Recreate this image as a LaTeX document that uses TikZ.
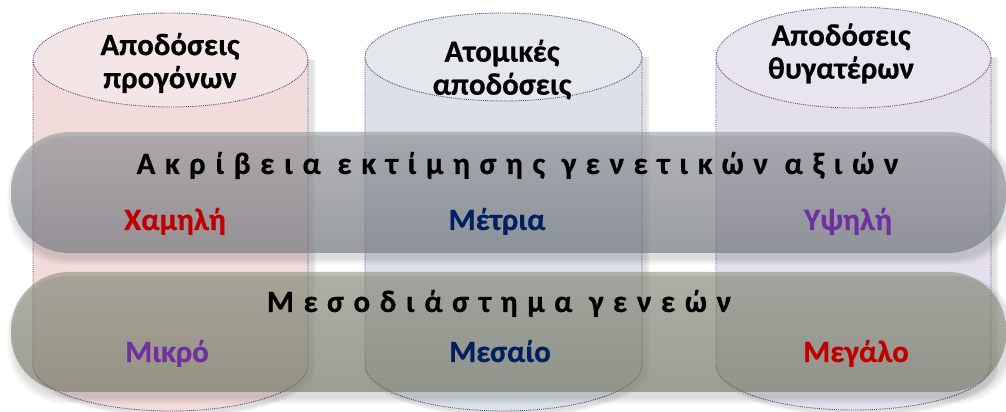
\documentclass[tikz,border=0pt]{standalone}
\usepackage{fontspec}
\setmainfont{Carlito}[BoldFeatures={FakeBold=0.5}]
\newfontfamily\spacedfont{Carlito}[LetterSpace=31,BoldFeatures={FakeBold=0.5}]
\definecolor{outl}{HTML}{5F497A}
\definecolor{pinkbody}{HTML}{F2DCDB}
\definecolor{pinktop}{HTML}{F4E6E6}
\definecolor{bluebody}{HTML}{DCE1E9}
\definecolor{bluetop}{HTML}{E4E7EC}
\definecolor{lavbody}{HTML}{E4DFEC}
\definecolor{lavtop}{HTML}{E9E5EF}
\definecolor{bandAtop}{RGB}{150,154,158}
\definecolor{bandAbot}{RGB}{110,116,124}
\definecolor{bandBtop}{RGB}{142,146,128}
\definecolor{bandBbot}{RGB}{114,118,98}
\definecolor{lowred}{HTML}{C00000}
\definecolor{darkblue}{HTML}{002060}
\definecolor{purp}{HTML}{7030A0}
\begin{document}
\begin{tikzpicture}[x=1pt,y=1pt,
  outline/.style={draw=outl, line width=0.9pt, densely dotted},
  cyllabel/.style={font=\fontsize{31}{33}\selectfont\bfseries, align=center, inner sep=0pt},
  titletext/.style={font=\spacedfont\fontsize{31}{33}\selectfont\bfseries, inner sep=0pt, anchor=base},
  lab/.style={font=\fontsize{31}{33}\selectfont\bfseries, inner sep=0pt, anchor=base},
  band/.style={opacity=0.6, rounded corners=58},
  shadowlayer/.style={fill=black, fill opacity=0.018}
]
\useasboundingbox (0,0) rectangle (1006,412);

% cylinder shadows
\foreach \k in {1,...,6}{
  \fill[shadowlayer] (33+4-\k*0.7,352) -- (33+4-\k*0.7,47-3) arc[start angle=180,end angle=360,x radius=137.5+\k*0.7,y radius=46+\k*0.7] -- (308+4+\k*0.7,352) -- cycle;
  \fill[shadowlayer] (365+4-\k*0.7,355) -- (365+4-\k*0.7,47-3) arc[start angle=180,end angle=360,x radius=138.5+\k*0.7,y radius=46+\k*0.7] -- (642+4+\k*0.7,355) -- cycle;
  \fill[shadowlayer] (716+4-\k*0.7,354.5) -- (716+4-\k*0.7,47-3) arc[start angle=180,end angle=360,x radius=137.5+\k*0.7,y radius=45+\k*0.7] -- (991+4+\k*0.7,354.5) -- cycle;
}

% cylinder 1
\fill[pinkbody] (33,352) -- (33,47) arc[start angle=180,end angle=360,x radius=137.5,y radius=46] -- (308,352) -- cycle;
\draw[outline] (33,352) -- (33,47) arc[start angle=180,end angle=360,x radius=137.5,y radius=46] -- (308,352);
\path[fill=pinktop, outline] (170.5,352) ellipse[x radius=137.5, y radius=47];

% cylinder 2
\fill[bluebody] (365,355) -- (365,47) arc[start angle=180,end angle=360,x radius=138.5,y radius=46] -- (642,355) -- cycle;
\draw[outline] (365,355) -- (365,47) arc[start angle=180,end angle=360,x radius=138.5,y radius=46] -- (642,355);
\path[fill=bluetop, outline] (503.5,355) ellipse[x radius=138.5, y radius=44];

% cylinder 3
\fill[lavbody] (716,354.5) -- (716,47) arc[start angle=180,end angle=360,x radius=137.5,y radius=45] -- (991,354.5) -- cycle;
\draw[outline] (716,354.5) -- (716,47) arc[start angle=180,end angle=360,x radius=137.5,y radius=45] -- (991,354.5);
\path[fill=lavtop, outline] (853.5,354.5) ellipse[x radius=137.5, y radius=50.5];

% band shadows
\foreach \k in {1,...,7}{
  \fill[shadowlayer, rounded corners=58] (11+3-\k,159-5-\k) rectangle (1006+3+\k,280-5+\k*0.3);
  \fill[shadowlayer, rounded corners=58] (11+3-\k,20-5-\k) rectangle (1006+3+\k,140-5+\k*0.3);
}

% bands
\shade[band, top color=bandAtop, bottom color=bandAbot] (11,159) rectangle (1006,280);
\shade[band, top color=bandBtop, bottom color=bandBbot] (11,20) rectangle (1006,140);

% cylinder labels
\node[cyllabel] (c1) at (170,349) {Αποδόσεις\\προγόνων};
\node[cyllabel] (c2) at (502,342.5) {Ατομικές\\αποδόσεις};
\node[cyllabel] (c3) at (841,358.5) {Αποδόσεις\\θυγατέρων};

% band titles
\node[titletext] (t1) at (517.5,238) {Ακρίβεια εκτίμησης γενετικών αξιών};
\node[titletext] (t2) at (499,100) {Μεσοδιάστημα γενεών};

% band labels
\node[lab, text=lowred] (l1) at (175,182) {Χαμηλή};
\node[lab, text=darkblue] (l2) at (497,182) {Μέτρια};
\node[lab, text=purp] (l3) at (848,182) {Υψηλή};
\node[lab, text=purp] (m1) at (167,50) {Μικρό};
\node[lab, text=darkblue] (m2) at (500,50) {Μεσαίο};
\node[lab, text=lowred] (m3) at (856,50) {Μεγάλο};
\end{tikzpicture}
\end{document}
